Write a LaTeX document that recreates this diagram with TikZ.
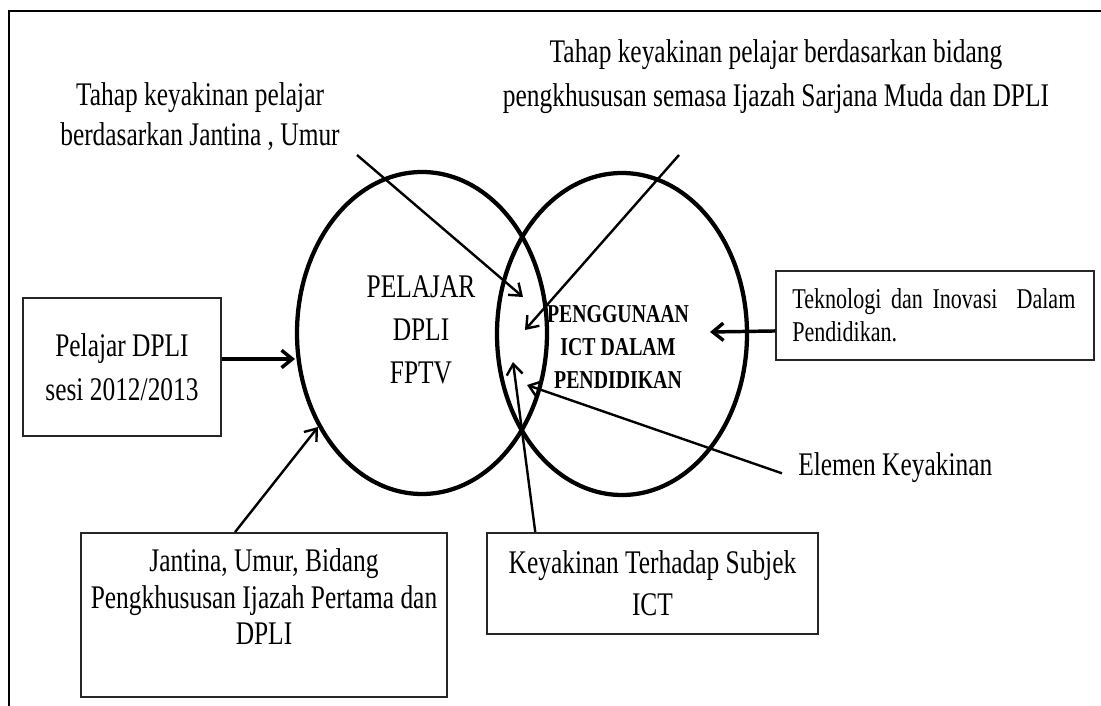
\documentclass[tikz,border=0pt]{standalone}
\usepackage{fontspec}
\setmainfont[FakeStretch=0.77]{Liberation Serif}
\usetikzlibrary{arrows.meta,positioning,shapes.geometric}
\tikzset{
  venn/.style={draw, ellipse, line width=3.2pt, minimum width=187.5pt, minimum height=241.5pt, inner sep=0pt},
  kotak/.style={draw=black!85, line width=1.4pt, inner sep=0pt, align=center},
  teks/.style={align=center, inner sep=0pt},
  panah/.style={-{Straight Barb[length=8pt,width=12pt]}, line width=1.8pt},
  panahtebal/.style={-{Straight Barb[length=8pt,width=13pt]}, line width=2.6pt},
}

\begin{document}
\begin{tikzpicture}[x=0.75pt, y=-0.75pt, font=\fontsize{24.75}{30}\selectfont]
  \clip (0,0) rectangle (1101,706);
  % bingkai luar
  \draw[line width=2pt] (9,720) -- (9,11) -- (1120,11);

  % dua bulatan
  \node[venn] (pelajar) at (422,333) {};
  \node[venn] (ict) at (622,334) {};
  \node[teks, font=\fontsize{24.75}{32}\selectfont] (pelajartxt) at (421,330) {PELAJAR\\DPLI\\FPTV};
  \node[teks, font=\fontsize{19.3}{25}\selectfont\bfseries] (icttxt) at (618,347) {PENGGUNAAN\\ICT DALAM\\PENDIDIKAN};

  % teks atas
  \node[teks] (jantinaumur) at (200,117) {Tahap keyakinan pelajar\\berdasarkan Jantina , Umur};
  \node[teks, font=\fontsize{24.75}{33}\selectfont] (bidang) at (776,77) {Tahap keyakinan pelajar berdasarkan bidang\\pengkhususan semasa Ijazah Sarjana Muda dan DPLI};

  % kotak
  \node[kotak, minimum width=148.5pt, minimum height=103.5pt, font=\fontsize{24.75}{33}\selectfont] (sesi) at (122,367) {Pelajar DPLI\\sesi 2012/2013};
  \node[kotak, minimum width=274.5pt, minimum height=123pt, font=\fontsize{24.75}{27.5}\selectfont] (latar) at (264,615) {Jantina, Umur, Bidang\\Pengkhususan Ijazah Pertama dan\\DPLI\\\mbox{}};
  \node[kotak, minimum width=248pt, minimum height=76pt, font=\fontsize{24.75}{31.5}\selectfont] (subjek) at (652.5,583.5) {Keyakinan Terhadap Subjek\\ICT};
  \node[kotak, align=left, text width=214pt, inner xsep=12pt, minimum height=67pt, font=\fontsize{21.5}{25}\selectfont] (inovasi) at (935,315.5) {\mbox{Teknologi dan Inovasi\ \ Dalam}\\Pendidikan.};
  \node[teks, anchor=west] (elemen) at (798,468) {Elemen Keyakinan};

  % hujung anak panah
  \coordinate (umurA) at (357,155);
  \coordinate (bidangA) at (679,155);
  \coordinate (tipA) at (523,297);
  \coordinate (tipB) at (525,330);
  \coordinate (tipC) at (513,362);
  \coordinate (tipD) at (527,385);
  \coordinate (tipP) at (295,359);
  \coordinate (tipL) at (318,427);
  \coordinate (tipT) at (710,332);

  \draw[panah] (umurA) -- (tipA);
  \draw[panah] (bidangA) -- (tipB);
  \draw[panah] ([xshift=36.75pt]subjek.north west) -- (tipC);
  \draw[panah] ([xshift=-12pt,yshift=-4pt]elemen.west) -- (tipD);
  \draw[panah] ([xshift=116.25pt]latar.north west) -- (tipL);
  \draw[panahtebal] ([yshift=6pt]sesi.east) -- (tipP);
  \draw[panahtebal] ([yshift=-11.6pt]inovasi.west) -- (tipT);
\end{tikzpicture}
\end{document}
